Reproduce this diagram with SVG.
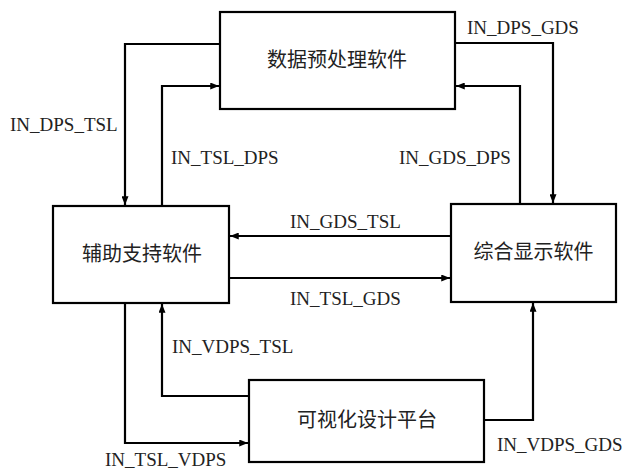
<svg xmlns="http://www.w3.org/2000/svg" width="632" height="474" viewBox="0 0 632 474">
<defs>
<marker id="arr" viewBox="0 0 10 8" refX="10" refY="4" markerWidth="9" markerHeight="7" markerUnits="userSpaceOnUse" orient="auto">
<path d="M0,0 L10,4 L0,8 z" fill="#000"/>
</marker>
<style>
.box{fill:#fff;stroke:#000;stroke-width:2.2}
.cn{font-family:"Noto Sans CJK SC","Noto Sans CJK JP",sans-serif;font-size:20px;fill:#222;text-anchor:middle}
.lb{font-family:"Liberation Serif","Times New Roman",serif;font-size:19px;fill:#222}
.c{fill:none;stroke:#000;stroke-width:2.2;marker-end:url(#arr)}
</style>
</defs>
<rect width="632" height="474" fill="#fff"/>
<g id="DPS"><rect class="box" x="220" y="12" width="235" height="97"/><text class="cn" x="337" y="67">数据预处理软件</text></g>
<g id="TSL"><rect class="box" x="53" y="206" width="176" height="97"/><text class="cn" x="142" y="261">辅助支持软件</text></g>
<g id="GDS"><rect class="box" x="451" y="204" width="165" height="98"/><text class="cn" x="533.5" y="259">综合显示软件</text></g>
<g id="VDPS"><rect class="box" x="249" y="380" width="235" height="82"/><text class="cn" x="367" y="427">可视化设计平台</text></g>
<g id="connectors">
<path class="c" d="M220,44 H125 V205"/>
<path class="c" d="M162,206 V86 H219"/>
<path class="c" d="M455,43 H553 V203"/>
<path class="c" d="M520,204 V86 H456"/>
<path class="c" d="M451,236 H230"/>
<path class="c" d="M229,278 H450"/>
<path class="c" d="M249,396 H162 V304"/>
<path class="c" d="M125,303 V443 H248"/>
<path class="c" d="M484,420 H533 V303"/>
</g>
<g id="labels">
<text class="lb" x="10" y="131">IN_DPS_TSL</text>
<text class="lb" x="171" y="164">IN_TSL_DPS</text>
<text class="lb" x="467" y="34">IN_DPS_GDS</text>
<text class="lb" x="399" y="164">IN_GDS_DPS</text>
<text class="lb" x="290" y="228">IN_GDS_TSL</text>
<text class="lb" x="290" y="305">IN_TSL_GDS</text>
<text class="lb" x="172" y="353">IN_VDPS_TSL</text>
<text class="lb" x="105" y="466">IN_TSL_VDPS</text>
<text class="lb" x="497" y="451">IN_VDPS_GDS</text>
</g>
</svg>
